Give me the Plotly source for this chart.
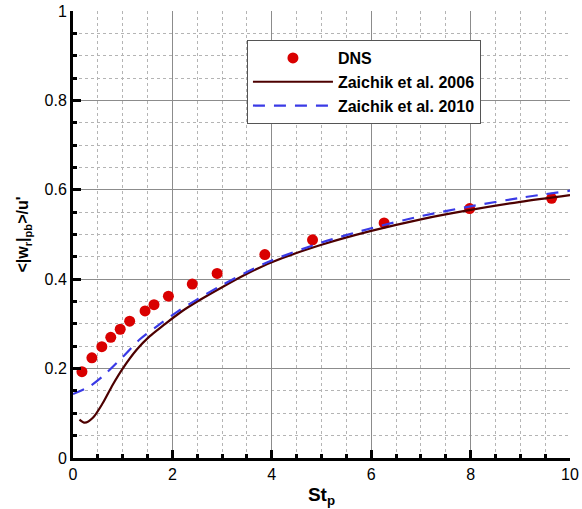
import plotly.graph_objects as go

# DNS data
dns_st = [0.18, 0.38, 0.58, 0.76, 0.95, 1.14, 1.45, 1.63, 1.92, 2.40, 2.90, 3.86, 4.82, 6.26, 7.98, 9.63]
dns_w = [0.193, 0.224, 0.249, 0.270, 0.288, 0.306, 0.329, 0.343, 0.362, 0.389, 0.413, 0.455, 0.488, 0.526, 0.558, 0.581]

# Zaichik et al. 2006 model curve
z06_st = [0.13, 0.24, 0.40, 0.60, 0.80, 1.00, 1.28, 1.54, 1.81, 2.15, 2.50, 3.00, 3.50, 4.00, 5.00, 6.00, 7.00, 8.00, 9.00, 10.0]
z06_w = [0.086, 0.079, 0.090, 0.123, 0.164, 0.200, 0.242, 0.272, 0.296, 0.325, 0.350, 0.382, 0.412, 0.438, 0.477, 0.508, 0.534, 0.555, 0.573, 0.588]

# Zaichik et al. 2010 model curve
z10_st = [0.0, 0.33, 0.60, 1.00, 1.34, 1.68, 2.11, 2.50, 3.00, 3.50, 4.00, 5.00, 6.00, 7.00, 8.00, 9.00, 10.0]
z10_w = [0.143, 0.160, 0.183, 0.226, 0.265, 0.294, 0.328, 0.355, 0.387, 0.416, 0.442, 0.482, 0.514, 0.541, 0.563, 0.582, 0.598]

x_ticks = [0, 2, 4, 6, 8, 10]
y_ticks = [0, 0.2, 0.4, 0.6, 0.8, 1]

FONT = "Liberation Sans, Arial, Helvetica, sans-serif"

fig = go.Figure()
fig.add_trace(go.Scatter(
    x=dns_st, y=dns_w, mode="markers", name="DNS",
    marker=dict(color="#d90000", size=11, line=dict(width=0)),
))
fig.add_trace(go.Scatter(
    x=z06_st, y=z06_w, mode="lines", name="Zaichik et al. 2006",
    line=dict(color="#4d0000", width=2.2, shape="spline", smoothing=0.8),
))
fig.add_trace(go.Scatter(
    x=z10_st, y=z10_w, mode="lines", name="Zaichik et al. 2010",
    line=dict(color="#3a3ae6", width=2.2, dash="12px,9px", shape="spline", smoothing=0.8),
))

axis_common = dict(
    showline=True, linecolor="black", linewidth=3,
    ticks="inside", ticklen=8, tickwidth=2.5, tickcolor="black",
    showgrid=True, gridcolor="#8c8c8c", gridwidth=1,
    zeroline=False, automargin=False,
    tickfont=dict(family=FONT, size=16, color="black"),
    mirror=False,
)

fig.update_xaxes(
    range=[0, 10], tickvals=x_ticks, ticktext=[str(v) for v in x_ticks],
    minor=dict(dtick=0.5, ticks="inside", ticklen=4, tickcolor="black",
               showgrid=True, gridcolor="#b4b4b4", griddash="dot", gridwidth=1),
    title=dict(text="St<sub>p</sub>", font=dict(family=FONT, size=19, color="black", weight="bold"), standoff=6),
    **axis_common,
)
fig.update_yaxes(
    range=[0, 1], tickvals=y_ticks, ticktext=["0", "0.2", "0.4", "0.6", "0.8", "1"],
    minor=dict(dtick=0.05, ticks="inside", ticklen=4, tickcolor="black",
               showgrid=True, gridcolor="#b4b4b4", griddash="dot", gridwidth=1),
    title=dict(text="&lt;|w<sub>r</sub>|<sub>pb</sub>&gt;/u'", font=dict(family=FONT, size=16, color="black", weight="bold"), standoff=12),
    **axis_common,
)

fig.update_layout(
    width=582, height=509,
    margin=dict(l=73, r=12, t=11, b=51),
    paper_bgcolor="white", plot_bgcolor="white",
    showlegend=True,
    legend=dict(
        x=0.35, y=0.935, xanchor="left", yanchor="top",
        bgcolor="white", bordercolor="#555555", borderwidth=1,
        font=dict(family=FONT, size=16, color="black", weight="bold"),
        itemwidth=80, tracegroupgap=0,
    ),
)

fig.write_html("out.html")
